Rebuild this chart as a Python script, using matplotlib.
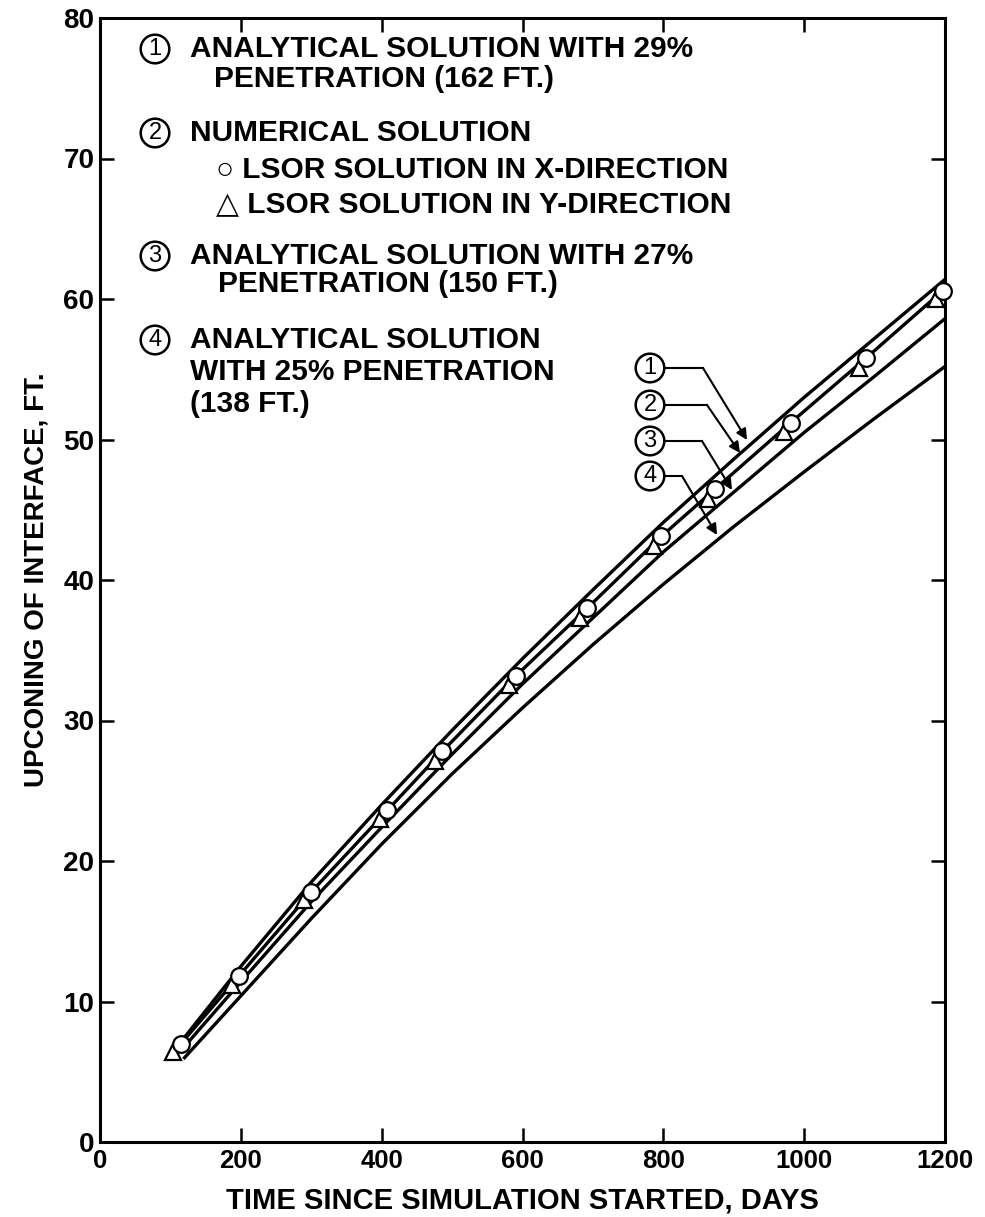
"""
Upconing of interface vs time: analytical solutions for three penetrations
and the LSOR numerical solutions (x- and y-direction).
Saves: out.png
"""

import matplotlib
matplotlib.use("Agg")
import matplotlib.pyplot as plt

plt.rcParams["font.family"] = ["Liberation Sans", "DejaVu Sans"]
plt.rcParams["font.weight"] = "bold"
plt.rcParams["axes.labelweight"] = "bold"

# ─── Data ─────────────────────────────────────────────────────────────────────
# (1) analytical, 29% penetration (162 ft)
days_1 = [105, 200, 300, 400, 500, 600, 700, 800, 900, 1000, 1100, 1200]
upc_1 = [6.5, 12.5, 18.5, 24.0, 29.3, 34.4, 39.3, 44.1, 48.6, 53.0, 57.2, 61.4]

# (2) numerical solution, LSOR in x-direction (circles, joined by the line)
days_x = [115, 197, 300, 408, 486, 591, 692, 797, 874, 981, 1088, 1197]
upc_x = [7.0, 11.8, 17.8, 23.6, 27.8, 33.2, 38.0, 43.1, 46.5, 51.2, 55.8, 60.6]

# LSOR in y-direction (triangles)
days_y = [104, 187, 290, 398, 476, 581, 682, 787, 864, 971, 1078, 1187]
upc_y = [6.4, 11.2, 17.2, 23.0, 27.1, 32.5, 37.3, 42.4, 45.8, 50.5, 55.1, 60.0]

# (3) analytical, 27% penetration (150 ft)
days_3 = [120, 200, 300, 400, 500, 600, 700, 800, 900, 1000, 1100, 1200]
upc_3 = [6.8, 11.4, 17.1, 22.4, 27.6, 32.6, 37.3, 42.0, 46.25, 50.5, 54.5, 58.6]

# (4) analytical, 25% penetration (138 ft)
days_4 = [120, 200, 300, 400, 500, 600, 700, 800, 900, 1000, 1100, 1200]
upc_4 = [6.0, 10.4, 15.9, 21.2, 26.2, 30.9, 35.4, 39.7, 43.8, 47.7, 51.5, 55.2]

x_ticks = [0, 200, 400, 600, 800, 1000, 1200]
y_ticks = [0, 10, 20, 30, 40, 50, 60, 70, 80]

# ─── Figure ──────────────────────────────────────────────────────────────────
W, H = 985, 1217
fig = plt.figure(figsize=(W / 100, H / 100), dpi=100)
AX_L, AX_R, AX_T, AX_B = 100, 945, 18, 1142
ax = fig.add_axes([AX_L / W, 1 - AX_B / H, (AX_R - AX_L) / W, (AX_B - AX_T) / H])
ax.set_xlim(0, 1200)
ax.set_ylim(0, 80)


def px(xp, yp):
    """pixel position on the page -> data coordinates"""
    return (xp - AX_L) / (AX_R - AX_L) * 1200, (AX_B - yp) / (AX_B - AX_T) * 80


LW = 2.4
ax.plot(days_1, upc_1, color="black", lw=LW, zorder=2)
ax.plot(days_3, upc_3, color="black", lw=LW, zorder=2)
ax.plot(days_4, upc_4, color="black", lw=LW, zorder=2)
ax.plot(days_x, upc_x, color="black", lw=LW, zorder=2)
ax.plot(days_y, upc_y, linestyle="none", marker="^", markersize=11,
        markerfacecolor="white", markeredgecolor="black", markeredgewidth=1.6,
        zorder=3, clip_on=False)
ax.plot(days_x, upc_x, linestyle="none", marker="o", markersize=12,
        markerfacecolor="white", markeredgecolor="black", markeredgewidth=1.6,
        zorder=4, clip_on=False)

# Axes styling
for s in ax.spines.values():
    s.set_linewidth(2.2)
ax.set_xticks(x_ticks)
ax.set_yticks(y_ticks)
ax.tick_params(direction="in", length=10, width=1.8, top=True, right=True,
               labeltop=False, labelright=False, pad=5)
ax.tick_params(axis="x", labelsize=18.5)
ax.tick_params(axis="y", labelsize=20, pad=4)
ax.set_xlabel("TIME SINCE SIMULATION STARTED, DAYS", fontsize=21, labelpad=10)
ax.set_ylabel("UPCONING OF INTERFACE, FT.", fontsize=20, labelpad=10)

# ─── Key text block (upper left) ─────────────────────────────────────────────
TXT = 21.5
circ = dict(boxstyle="circle,pad=0.14", fc="white", ec="black", lw=1.8)


def key(num, xp, yp):
    x, y = px(xp, yp)
    ax.text(x, y, num, fontsize=17, fontweight="normal", ha="center",
            va="center", bbox=circ, zorder=6)


def line(s, xp, yp):
    x, y = px(xp, yp)
    ax.text(x, y, s, fontsize=TXT, ha="left", va="center", zorder=6)


key("1", 155, 49)
line("ANALYTICAL SOLUTION WITH 29%", 190, 49)
line("PENETRATION (162 FT.)", 214, 79)
key("2", 155, 133)
line("NUMERICAL SOLUTION", 190, 133)
line("\u25CB LSOR SOLUTION IN X-DIRECTION", 216, 170)
line("\u25B3 LSOR SOLUTION IN Y-DIRECTION", 216, 204)
key("3", 155, 256)
line("ANALYTICAL SOLUTION WITH 27%", 190, 256)
line("PENETRATION (150 FT.)", 218, 284)
key("4", 155, 340)
line("ANALYTICAL SOLUTION", 190, 340)
line("WITH 25% PENETRATION", 190, 372)
line("(138 FT.)", 190, 404)

# ─── Curve call-outs with leader arrows ──────────────────────────────────────
callouts = [
    ("1", (650, 368), (703, 368), (747, 440)),
    ("2", (650, 405), (707, 405), (740, 453)),
    ("3", (650, 441), (702, 441), (732, 490)),
    ("4", (650, 476), (682, 476), (717, 535)),
]
for num, c, elbow, tip in callouts:
    key(num, *c)
    x0, y0 = px(c[0] + 15, c[1])
    x1, y1 = px(*elbow)
    x2, y2 = px(*tip)
    ax.plot([x0, x1], [y0, y1], color="black", lw=1.5, zorder=5)
    ax.annotate("", xy=(x2, y2), xytext=(x1, y1),
                arrowprops=dict(arrowstyle="-|>", color="black", lw=1.5,
                                mutation_scale=16, shrinkA=0, shrinkB=0),
                zorder=5)

fig.savefig("out.png", dpi=100, facecolor="white")
